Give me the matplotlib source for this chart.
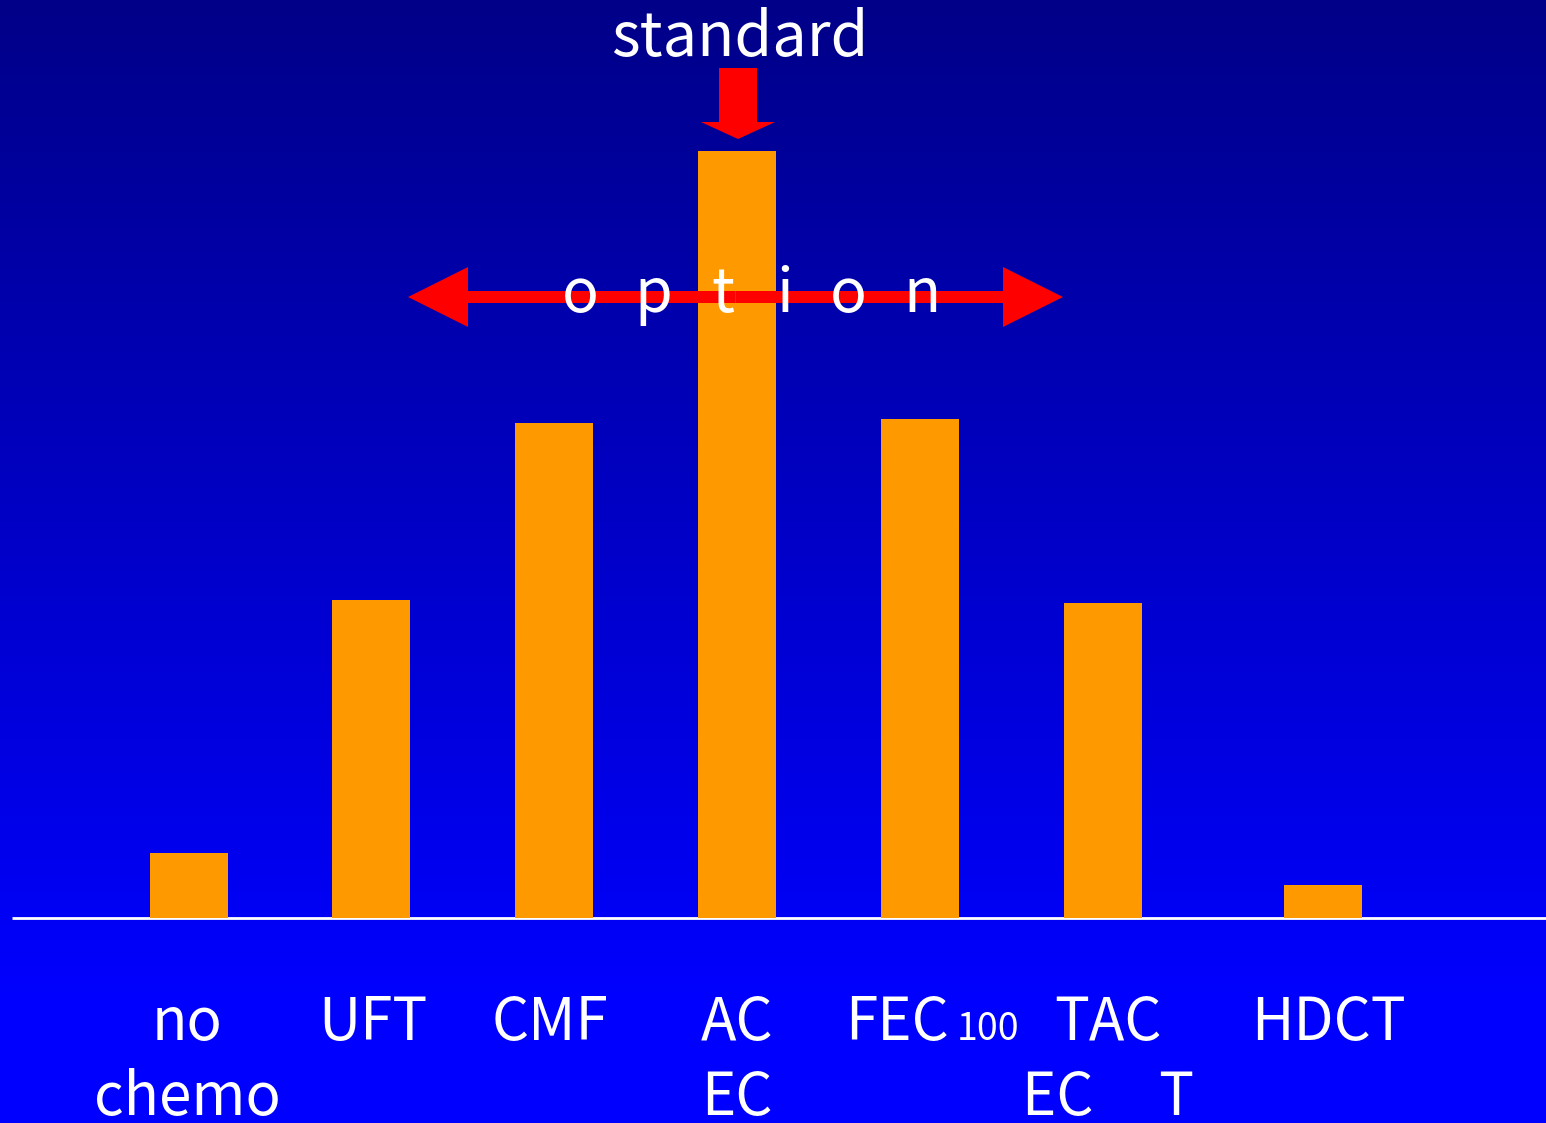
import numpy as np
import matplotlib
matplotlib.use("Agg")
import matplotlib.pyplot as plt
from matplotlib.patches import FancyArrow

# ---- data ----
categories = ["no\nchemo", "UFT", "CMF", "AC\nEC", "FEC", "TAC\nEC     T", "HDCT"]
values = [65, 318, 495, 767, 499, 315, 33]
fec_suffix = "100"
standard_label = "standard"
option_letters = ["o", "p", "t", "i", "o", "n"]

# ---- layout (pixel-like units, 1 unit = 1 px) ----
W, H = 1546, 1123
base_px = 918
positions = [189, 371, 554, 737, 920, 1103, 1323]
bar_width = 78
label_x = [187, 373, 550, 737, 897, 1108, 1328]
option_x = [580, 653, 723, 785, 848, 922]

plt.rcParams['font.family'] = ['Noto Sans CJK JP', 'DejaVu Sans']

fig = plt.figure(figsize=(W / 100, H / 100), dpi=100)
ax = fig.add_axes([0, 0, 1, 1])
ax.set_xlim(0, W)
ax.set_ylim(base_px - H, base_px)
ax.axis('off')

def py(p):
    return base_px - p

# gradient background
rows = np.arange(H)
blue = np.clip(136 + 119 * rows / 1000.0, 0, 255) / 255.0
grad = np.zeros((H, 1, 3))
grad[:, 0, 2] = blue
ax.imshow(grad, extent=[0, W, base_px - H, base_px], aspect='auto', zorder=0, origin='upper')

# baseline
ax.plot([12, W], [0, 0], color='white', lw=2, zorder=1, solid_capstyle='butt')

# bars
ax.bar(positions, values, width=bar_width, color='#FF9900', zorder=2)

# option double arrow
ay = py(297)
cx = 735.5
for dx in (-327.5, 327.5):
    ax.add_patch(FancyArrow(cx, ay, dx, 0, width=12, head_width=60, head_length=60,
                            length_includes_head=True, color='#FF0000', lw=0, zorder=3))
for lx, ch in zip(option_x, option_letters):
    ax.text(lx, py(312), ch, color='white', fontsize=44, ha='center', va='baseline', zorder=4)

# standard arrow
sx = 738
ax.add_patch(FancyArrow(sx, py(68), 0, -71, width=38, head_width=74, head_length=17,
                        length_includes_head=True, color='#FF0000', lw=0, zorder=3))
ax.text(740, py(56), standard_label, color='white', fontsize=44, ha='center', va='baseline', zorder=4)

# category labels
line_base = [1040, 1115]
for lx, lab in zip(label_x, categories):
    for i, line in enumerate(lab.split("\n")):
        ax.text(lx, py(line_base[i]), line, color='white', fontsize=42, ha='center',
                va='baseline', zorder=4)
ax.text(957, py(1040), fec_suffix, color='white', fontsize=27, ha='left', va='baseline', zorder=4)

fig.savefig("out.png", dpi=100)
